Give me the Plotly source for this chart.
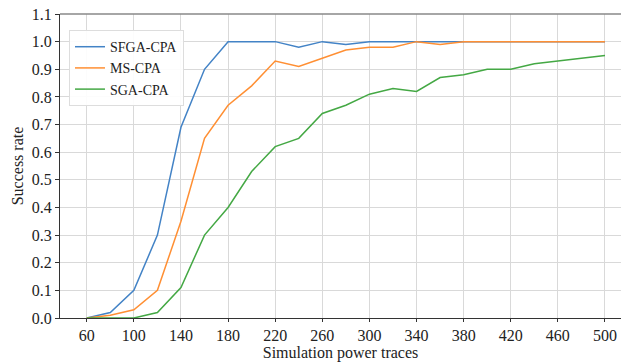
import plotly.graph_objects as go

x_traces = [60, 80, 100, 120, 140, 160, 180, 200, 220, 240, 260, 280, 300,
            320, 340, 360, 380, 400, 420, 440, 460, 480, 500]
sfga_cpa = [0.0, 0.02, 0.10, 0.30, 0.69, 0.90, 1.0, 1.0, 1.0, 0.98, 1.0, 0.99, 1.0,
            1.0, 1.0, 1.0, 1.0, 1.0, 1.0, 1.0, 1.0, 1.0, 1.0]
ms_cpa = [0.0, 0.01, 0.03, 0.10, 0.35, 0.65, 0.77, 0.84, 0.93, 0.91, 0.94, 0.97, 0.98,
          0.98, 1.0, 0.99, 1.0, 1.0, 1.0, 1.0, 1.0, 1.0, 1.0]
sga_cpa = [0.0, 0.0, 0.0, 0.02, 0.11, 0.30, 0.40, 0.53, 0.62, 0.65, 0.74, 0.77, 0.81,
           0.83, 0.82, 0.87, 0.88, 0.90, 0.90, 0.92, 0.93, 0.94, 0.95]
series_names = ["SFGA-CPA", "MS-CPA", "SGA-CPA"]
colors = ["#4383c6", "#ff8f33", "#44a844"]
x_ticks = list(range(60, 501, 40))
y_ticks = [round(i * 0.1, 1) for i in range(12)]

font = "Liberation Serif, Times New Roman, serif"

fig = go.Figure()
for name, ys, c in zip(series_names, [sfga_cpa, ms_cpa, sga_cpa], colors):
    fig.add_trace(go.Scatter(x=x_traces, y=ys, mode="lines", name=name,
                             line=dict(color=c, width=1.5)))

fig.update_layout(
    width=621, height=362,
    margin=dict(l=60, r=0, t=14, b=44),
    plot_bgcolor="white", paper_bgcolor="white",
    font=dict(family=font, size=16, color="#222"),
    legend=dict(x=0.016, y=0.947, xanchor="left", yanchor="top",
                bgcolor="rgba(255,255,255,0.9)", bordercolor="#dddddd", borderwidth=1,
                font=dict(family=font, size=14, color="#222"),
                itemwidth=30, tracegroupgap=0,
                entrywidth=80, entrywidthmode="pixels"),
    showlegend=True,
)
fig.update_xaxes(range=[37.3, 513.6], tickvals=x_ticks, ticktext=[str(t) for t in x_ticks],
                 automargin=False,
                 showgrid=True, gridcolor="#d9d9d9", gridwidth=1,
                 showline=True, linecolor="#333", linewidth=1,
                 ticks="outside", ticklen=3, tickcolor="#333",
                 zeroline=False,
                 title=dict(text="Simulation power traces", font=dict(family=font, size=16), standoff=2),
                 tickfont=dict(family=font, size=16))
fig.update_yaxes(range=[0, 1.1], tickvals=y_ticks, ticktext=[f"{v:.1f}" for v in y_ticks],
                 automargin=False,
                 showgrid=True, gridcolor="#d9d9d9", gridwidth=1,
                 showline=True, linecolor="#333", linewidth=1,
                 ticks="outside", ticklen=4, tickcolor="#333",
                 zeroline=False,
                 title=dict(text="Success rate", font=dict(family=font, size=16), standoff=4),
                 tickfont=dict(family=font, size=16))
fig.add_shape(type="line", xref="paper", yref="paper", x0=0, x1=1, y0=1, y1=1,
              line=dict(color="#888", width=1.5))

fig.write_html("out.html", config={"displayModeBar": False},
               post_script="document.body.style.margin='0';document.body.style.padding='0';document.body.style.overflow='hidden';")
